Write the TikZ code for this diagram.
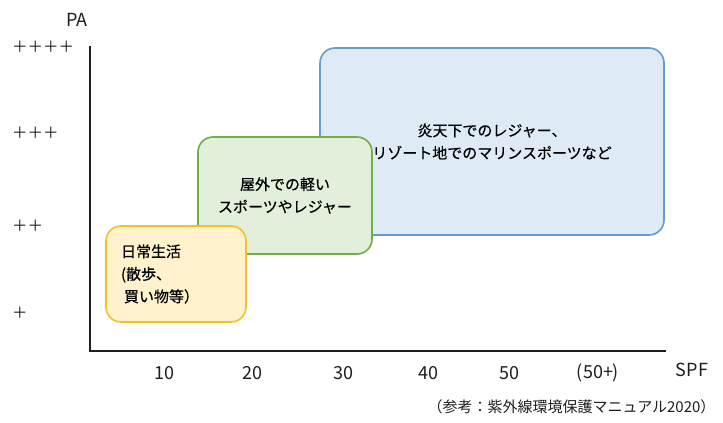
\documentclass[tikz,border=0pt]{standalone}
\usepackage{fontspec}
\setmainfont{Noto Sans CJK JP}
\newfontfamily\boxfont{Noto Sans CJK JP}[FakeBold=0.6]
\definecolor{sunyellow}{RGB}{255,242,204}
\definecolor{sunyellowdk}{RGB}{245,192,40}
\definecolor{leafgreen}{RGB}{226,239,218}
\definecolor{leafgreendk}{RGB}{112,173,71}
\definecolor{seablue}{RGB}{222,235,247}
\definecolor{seabluedk}{RGB}{99,155,210}
\definecolor{axisgray}{RGB}{30,30,30}

\begin{document}
\begin{tikzpicture}[x=1pt, y=-1pt,
    scenebox/.style={rectangle, rounded corners=15pt, line width=1.6pt, align=center,
                     font=\boxfont\fontsize{15}{22.5}\selectfont},
    ticklbl/.style={font=\fontsize{18}{20}\selectfont, text=axisgray},
    pluslbl/.style={anchor=west, inner sep=0pt, font=\fontsize{15.5}{18}\selectfont, text=axisgray}
  ]
    \useasboundingbox (0,0) rectangle (723,423);

    % Scenes, back to front
    \node[scenebox, draw=seabluedk, fill=seablue, minimum width=344pt, minimum height=187pt]
        (resort) at (492,141.5) {炎天下でのレジャー、\\リゾート地でのマリンスポーツなど};
    \node[scenebox, draw=leafgreendk, fill=leafgreen, minimum width=174pt, minimum height=117pt]
        (outdoor) at (285,195.5) {屋外での軽い\\スポーツやレジャー};
    \node[scenebox, draw=sunyellowdk, fill=sunyellow, minimum width=140pt, minimum height=96pt,
          align=left, text width=110pt]
        (daily) at (176,274) {日常生活\\(散歩、\\\hspace{3pt}買い物等）};

    % Axes
    \coordinate (ytop)   at (90,46);
    \coordinate (origin) at (90,351);
    \coordinate (xend)   at (666,351);
    \draw[line width=2.6pt, axisgray] (ytop) -- (origin) -- (xend);

    % PA levels
    \node[ticklbl] (palbl) at (77,20) {PA};
    \node[pluslbl] (pa4) at (12,47)  {＋＋＋＋};
    \node[pluslbl] (pa3) at (12,133) {＋＋＋};
    \node[pluslbl] (pa2) at (12,226) {＋＋};
    \node[pluslbl] (pa1) at (12,313) {＋};

    % SPF values
    \node[ticklbl] (spf10) at (164,373) {10};
    \node[ticklbl] (spf20) at (252,373) {20};
    \node[ticklbl] (spf30) at (343,373) {30};
    \node[ticklbl] (spf40) at (428,373) {40};
    \node[ticklbl] (spf50) at (509,373) {50};
    \node[ticklbl] (spf50p) at (598,373) {(50+)};
    \node[ticklbl] (spflbl) at (692,370) {SPF};

    % Source
    \node[anchor=east, font=\fontsize{15}{18}\selectfont, text=axisgray]
        (source) at (719,407) {（参考：紫外線環境保護マニュアル2020）};
\end{tikzpicture}
\end{document}
